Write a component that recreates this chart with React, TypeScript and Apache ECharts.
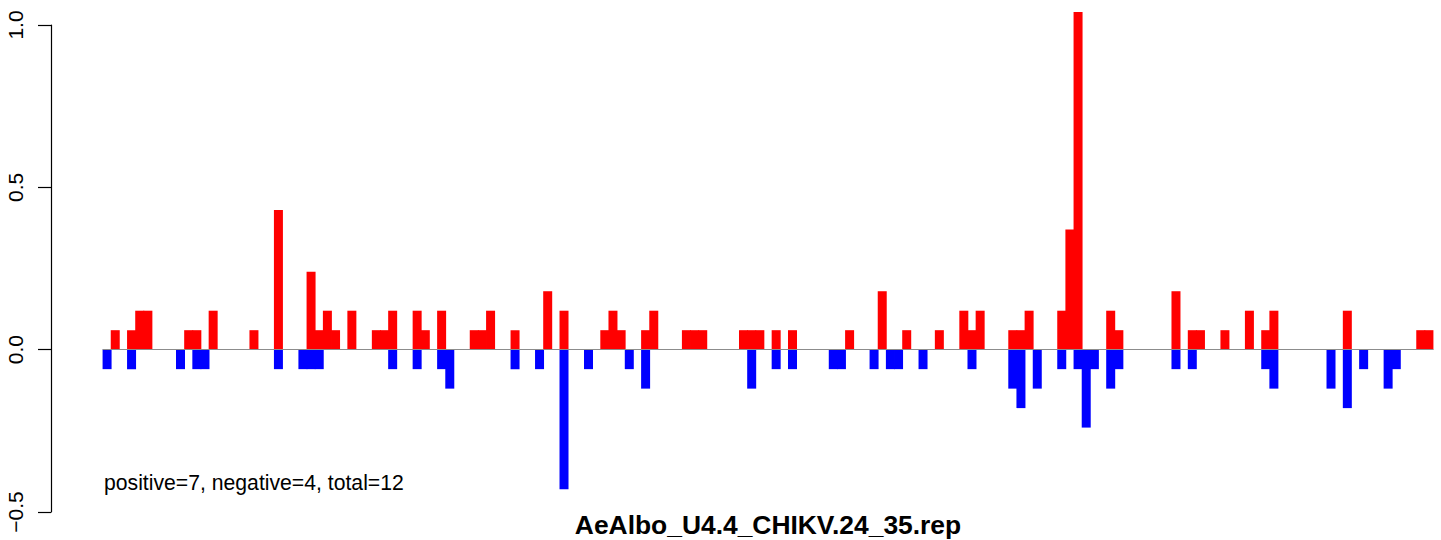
import React, { useEffect, useRef } from "react";
import * as echarts from "echarts";

// Scores per position (163 positions)
const positiveValues: number[] = [
  0, 0.06, 0, 0.06, 0.12, 0.12, 0, 0, 0, 0,
  0.06, 0.06, 0, 0.12, 0, 0, 0, 0, 0.06, 0,
  0, 0.43, 0, 0, 0, 0.24, 0.06, 0.12, 0.06, 0,
  0.12, 0, 0, 0.06, 0.06, 0.12, 0, 0, 0.12, 0.06,
  0, 0.12, 0, 0, 0, 0.06, 0.06, 0.12, 0, 0,
  0.06, 0, 0, 0, 0.18, 0, 0.12, 0, 0, 0,
  0, 0.06, 0.12, 0.06, 0, 0, 0.06, 0.12, 0, 0,
  0, 0.06, 0.06, 0.06, 0, 0, 0, 0, 0.06, 0.06,
  0.06, 0, 0.06, 0, 0.06, 0, 0, 0, 0, 0,
  0, 0.06, 0, 0, 0, 0.18, 0, 0, 0.06, 0,
  0, 0, 0.06, 0, 0, 0.12, 0.06, 0.12, 0, 0,
  0, 0.06, 0.06, 0.12, 0, 0, 0, 0.12, 0.37, 1.04,
  0, 0, 0, 0.12, 0.06, 0, 0, 0, 0, 0,
  0, 0.18, 0, 0.06, 0.06, 0, 0, 0.06, 0, 0,
  0.12, 0, 0.06, 0.12, 0, 0, 0, 0, 0, 0,
  0, 0, 0.12, 0, 0, 0, 0, 0, 0, 0,
  0, 0.06, 0.06,
];

const negativeValues: number[] = [
  -0.06, 0, 0, -0.06, 0, 0, 0, 0, 0, -0.06,
  0, -0.06, -0.06, 0, 0, 0, 0, 0, 0, 0,
  0, -0.06, 0, 0, -0.06, -0.06, -0.06, 0, 0, 0,
  0, 0, 0, 0, 0, -0.06, 0, 0, -0.06, 0,
  0, -0.06, -0.12, 0, 0, 0, 0, 0, 0, 0,
  -0.06, 0, 0, -0.06, 0, 0, -0.43, 0, 0, -0.06,
  0, 0, 0, 0, -0.06, 0, -0.12, 0, 0, 0,
  0, 0, 0, 0, 0, 0, 0, 0, 0, -0.12,
  0, 0, -0.06, 0, -0.06, 0, 0, 0, 0, -0.06,
  -0.06, 0, 0, 0, -0.06, 0, -0.06, -0.06, 0, 0,
  -0.06, 0, 0, 0, 0, 0, -0.06, 0, 0, 0,
  0, -0.12, -0.18, 0, -0.12, 0, 0, -0.06, 0, -0.06,
  -0.24, -0.06, 0, -0.12, -0.06, 0, 0, 0, 0, 0,
  0, -0.06, 0, -0.06, 0, 0, 0, 0, 0, 0,
  0, 0, -0.06, -0.12, 0, 0, 0, 0, 0, 0,
  -0.12, 0, -0.18, 0, -0.06, 0, 0, -0.12, -0.06, 0,
  0, 0, 0,
];

const positions: string[] = positiveValues.map((_, i) => String(i + 1));

const yTicks: number[] = [-0.5, 0, 0.5, 1.0];

const titleText = "AeAlbo_U4.4_CHIKV.24_35.rep";
const summaryText = "positive=7, negative=4, total=12";

const FONT = "'Liberation Sans', Arial, Helvetica, sans-serif";

const toBarData = (vals: number[]) => vals.map((v) => (v === 0 ? "-" : v));

export default function App() {
  const ref = useRef<HTMLDivElement>(null);

  useEffect(() => {
    if (!ref.current) return;
    const chart = echarts.init(ref.current, undefined, { renderer: "svg" });
    chart.setOption({
      animation: false,
      backgroundColor: "#ffffff",
      grid: { left: 103, top: 25, width: 1330, height: 487, containLabel: false },
      xAxis: {
        type: "category",
        data: positions,
        z: 10,
        axisLine: { onZero: true, lineStyle: { color: "#8c8c8c", width: 1.2 } },
        axisTick: { show: false },
        axisLabel: { show: false },
        splitLine: { show: false },
      },
      yAxis: {
        type: "value",
        position: "left",
        offset: 52,
        min: yTicks[0],
        max: yTicks[yTicks.length - 1],
        interval: 0.5,
        axisLine: { show: true, lineStyle: { color: "#000", width: 1.2 } },
        axisTick: { show: true, length: 13, lineStyle: { color: "#000", width: 1.2 } },
        axisLabel: {
          rotate: 90,
          margin: 25,
          fontSize: 21,
          color: "#000",
          fontFamily: FONT,
          formatter: (v: number) => (v < 0 ? "\u2212" + Math.abs(v).toFixed(1) : v.toFixed(1)),
        },
        splitLine: { show: false },
      },
      series: [
        {
          type: "bar",
          data: toBarData(positiveValues),
          barWidth: 9,
          barGap: "-100%",
          barCategoryGap: 0,
          clip: false,
          itemStyle: { color: "#ff0000" },
        },
        {
          type: "bar",
          data: toBarData(negativeValues),
          barWidth: 9,
          barGap: "-100%",
          barCategoryGap: 0,
          clip: false,
          itemStyle: { color: "#0000ff" },
        },
      ],
      graphic: [
        {
          type: "text",
          left: 104,
          top: 472,
          style: { text: summaryText, fontSize: 21.2, fontFamily: FONT, fill: "#000" },
        },
        {
          type: "text",
          x: 768,
          y: 525,
          style: {
            text: titleText,
            fontSize: 26.4,
            fontWeight: "bold",
            fontFamily: FONT,
            fill: "#000",
            align: "center",
            verticalAlign: "middle",
          },
        },
      ],
    });
    return () => chart.dispose();
  }, []);

  return (
    <div
      ref={ref}
      style={{ position: "fixed", left: 0, top: 0, width: 1441, height: 540, background: "#fff" }}
    />
  );
}
